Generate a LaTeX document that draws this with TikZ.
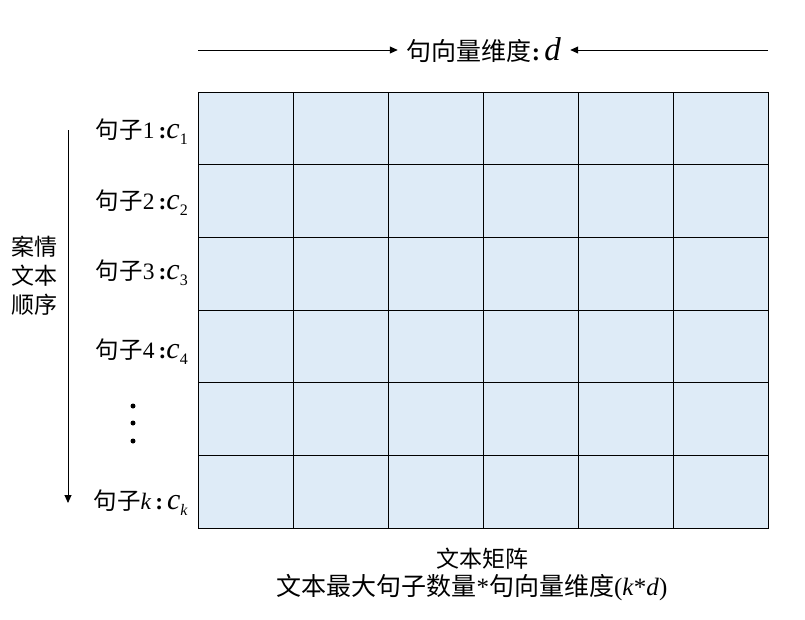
\documentclass[tikz,border=0pt]{standalone}
\usepackage{fontspec}
\setmainfont{Liberation Serif}
\newfontfamily\cjk{Noto Sans CJK SC}
\usetikzlibrary{arrows.meta}
\definecolor{cellblue}{RGB}{222,235,247}
\newcommand{\cvar}[1]{\textit{\fontsize{30}{30}\selectfont c}\raisebox{-6pt}{\fontsize{16}{16}\selectfont #1}}
\tikzset{
  cell/.style={draw=black, line width=1pt, fill=cellblue, minimum width=95pt, minimum height=72.67pt, inner sep=0pt, outer sep=0pt},
  rowlab/.style={anchor=east, inner sep=0pt, font=\fontsize{23.5}{24}\selectfont},
  biglab/.style={inner sep=0pt, font=\fontsize{23}{29}\selectfont},
  arr/.style={line width=0.9pt, -{Triangle[length=8pt,width=7pt]}},
  dotmark/.style={circle, fill=black, inner sep=0pt, minimum size=5pt}
}
\begin{document}
\begin{tikzpicture}[x=1pt,y=-1pt]
\useasboundingbox (0,0) rectangle (805,619);
% matrix cells
\foreach \r in {1,...,6}{
  \foreach \c in {1,...,6}{
    \node[cell] (m-\r-\c) at ({198+95*(\c-0.5)},{92+72.67*(\r-0.5)}) {};
  }
}
% top label and arrows
\node[biglab, inner xsep=9pt, font=\fontsize{25}{29}\selectfont] (dim) at (484,50) {\cjk 句向量维度\rmfamily\textbf{:}\,\textit{\fontsize{33}{33}\selectfont d}};
\coordinate (tl) at (198,50);
\coordinate (tr) at (768,50);
\draw[arr] (tl) -- (dim.west);
\draw[arr] (tr) -- (dim.east);
% row labels
\node[rowlab] (r1) at (188,132) {{\cjk 句子}1\,\textbf{:}\cvar{1}};
\node[rowlab] (r2) at (188,203) {{\cjk 句子}2\,\textbf{:}\cvar{2}};
\node[rowlab] (r3) at (188,273) {{\cjk 句子}3\,\textbf{:}\cvar{3}};
\node[rowlab] (r4) at (188,352) {{\cjk 句子}4\,\textbf{:}\cvar{4}};
\node[rowlab] (rk) at (188,503) {{\cjk 句子}\textit{k}\,\textbf{:}\,\cvar{\textit{k}}};
\node[dotmark] (d1) at (133,406) {};
\node[dotmark] (d2) at (133,423) {};
\node[dotmark] (d3) at (133,441) {};
% left label and arrow
\node[biglab, align=center] (order) at (34,276) {\cjk 案情\\\cjk 文本\\\cjk 顺序};
\coordinate (vt) at (68,130);
\coordinate (vb) at (68,503);
\draw[arr] (vt) -- (vb);
% bottom caption
\node[biglab] (cap1) at (482,559) {\cjk 文本矩阵};
\node[biglab, font=\fontsize{25}{29}\selectfont] (cap2) at (472,588) {{\cjk 文本最大句子数量}*{\cjk 句向量维度}(\textit{k}*\textit{d})};
\end{tikzpicture}
\end{document}
